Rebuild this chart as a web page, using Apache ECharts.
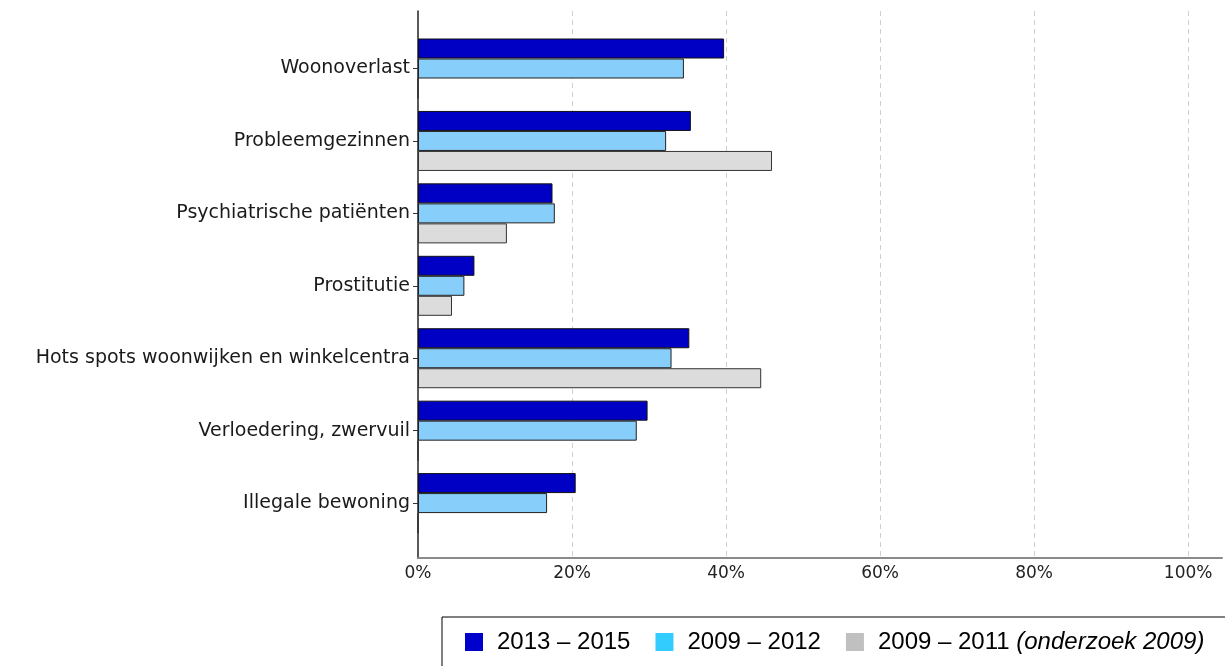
<!DOCTYPE html>
<html>
<head>
<meta charset="utf-8">
<script src="https://cdn.jsdelivr.net/npm/echarts@6/dist/echarts.min.js"></script>
<style>
html,body{margin:0;padding:0;background:#fff;}
#c{width:1225px;height:666px;}
</style>
</head>
<body>
<div id="c"></div>
<script>
const categories = ['Woonoverlast','Probleemgezinnen','Psychiatrische patiënten','Prostitutie','Hots spots woonwijken en winkelcentra','Verloedering, zwervuil','Illegale bewoning'];
const seriesNames = ['2013 – 2015','2009 – 2012','2009 – 2011'];
const values2013_2015 = [39.6, 35.3, 17.4, 7.3, 35.1, 29.7, 20.4];
const values2009_2012 = [34.4, 32.1, 17.7, 6.0, 32.8, 28.3, 16.7];
const values2009_2011 = [0, 45.8, 11.5, 4.4, 44.4, 0, 0];
const xTickValues = [0, 20, 40, 60, 80, 100];
const legendNote = '(onderzoek 2009)';

const XMAX = 104.4;
const chart = echarts.init(document.getElementById('c'));
const labelFont = 'DejaVu Sans';

function barSeries(name, data, color, border) {
  return {
    name: name, type: 'bar', xAxisIndex: 0, yAxisIndex: 0,
    data: data, barWidth: 20, barGap: '0%',
    itemStyle: {color: color, borderColor: border, borderWidth: 1},
    emphasis: {disabled: true}, animation: false
  };
}

chart.setOption({
  animation: false,
  grid: [
    {left: 418, right: 0, top: 32.3, height: 507},
    {left: 418, right: 0, top: 11, height: 547}
  ],
  xAxis: [
    {gridIndex: 0, type: 'value', min: 0, max: XMAX, show: false},
    {gridIndex: 1, type: 'value', min: 0, max: XMAX, interval: 20,
     axisLine: {show: true, lineStyle: {color: '#8a8a8a', width: 2}},
     axisTick: {show: false},
     splitLine: {show: true, showMinLine: false, showMaxLine: false,
                 lineStyle: {color: '#cfcfcf', type: [5, 4], width: 1}},
     axisLabel: {
       margin: 7, color: '#222', fontFamily: labelFont, fontSize: 17,
       formatter: function (v) { return xTickValues.indexOf(v) >= 0 ? v + '%' : ''; }
     }}
  ],
  yAxis: [
    {gridIndex: 0, type: 'category', data: categories, inverse: true,
     axisLine: {show: false},
     axisTick: {show: true, alignWithLabel: true, length: 5, lineStyle: {color: '#333', width: 1}},
     axisLabel: {margin: 8, color: '#1a1a1a', fontFamily: labelFont, fontSize: 19}},
    {gridIndex: 1, type: 'value', min: 0, max: 1,
     axisLine: {show: true, lineStyle: {color: '#222', width: 1.5}},
     axisTick: {show: false}, axisLabel: {show: false}, splitLine: {show: false}}
  ],
  legend: {
    left: 442, top: 617, width: 820,
    orient: 'horizontal',
    backgroundColor: '#fff',
    borderColor: '#000', borderWidth: 1,
    padding: [13, 40, 20, 23],
    itemWidth: 18, itemHeight: 18, itemGap: 25,
    icon: 'rect',
    selectedMode: false,
    itemStyle: {borderWidth: 0},
    textStyle: {
      fontFamily: 'Liberation Sans', fontSize: 24, color: '#000', padding: [0, 0, 0, 9],
      rich: {
        n: {fontFamily: 'Liberation Sans', fontSize: 24, color: '#000'},
        i: {fontFamily: 'Liberation Sans', fontSize: 24, color: '#000', fontStyle: 'italic'}
      }
    },
    formatter: function (name) {
      if (name === seriesNames[2]) return '{n|' + name + ' }{i|' + legendNote + '}';
      return name;
    },
    data: [
      {name: seriesNames[0], itemStyle: {color: '#0000cc'}},
      {name: seriesNames[1], itemStyle: {color: '#33ccff'}},
      {name: seriesNames[2], itemStyle: {color: '#c0c0c0'}}
    ]
  },
  series: [
    barSeries(seriesNames[0], values2013_2015, '#0000c4', '#111'),
    barSeries(seriesNames[1], values2009_2012, '#87cefa', '#222'),
    barSeries(seriesNames[2], values2009_2011, '#dcdcdc', '#333')
  ]
});
</script>
</body>
</html>
